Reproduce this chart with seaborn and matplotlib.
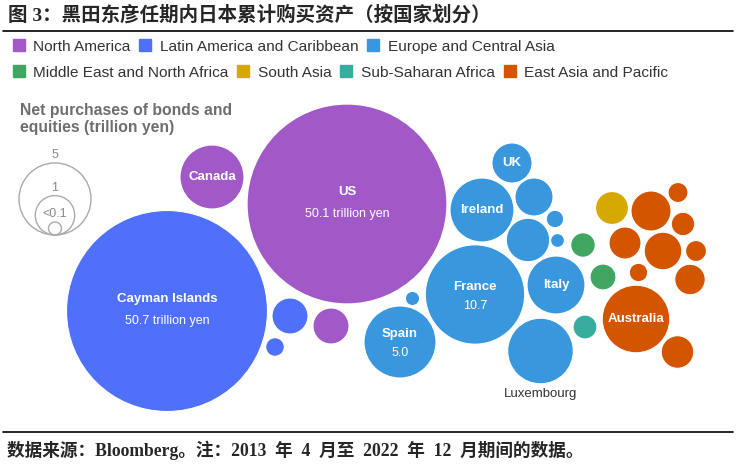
import numpy as np
import pandas as pd
import matplotlib
matplotlib.use("Agg")
import matplotlib.pyplot as plt
from matplotlib.colors import FuncNorm
from matplotlib.lines import Line2D
import seaborn as sns

# 地区与配色
regions = ["North America", "Latin America and Caribbean", "Europe and Central Asia",
           "Middle East and North Africa", "South Asia", "Sub-Saharan Africa",
           "East Asia and Pacific"]
region_colors = ["#a259c8", "#4f70fa", "#3897dd", "#40a661", "#d6a900", "#37ad9f", "#d45500"]

# 气泡数据：名称、地区、净购买额（万亿日元）
names = ["US", "Canada", "",
         "Cayman Islands", "", "",
         "France", "Spain", "Ireland", "Luxembourg", "Italy", "", "UK", "", "", "", "",
         "", "",
         "",
         "",
         "Australia", "", "", "", "", "", "", "", "", ""]
region_of = (["North America"] * 3 + ["Latin America and Caribbean"] * 3
             + ["Europe and Central Asia"] * 11 + ["Middle East and North Africa"] * 2
             + ["South Asia"] + ["Sub-Saharan Africa"] + ["East Asia and Pacific"] * 10)
values = [50.1, 3.73, 0.76,
          50.7, 0.76, 0.045,
          10.7, 5.0, 3.73, 3.97, 2.9, 1.33, 1.05, 0.9, 0.028, 0.002, 0.001,
          0.24, 0.19,
          0.57,
          0.17,
          4.28, 1.05, 0.87, 0.55, 0.52, 0.44, 0.155, 0.09, 0.07, 0.042]

# 气泡布局位置（画布坐标，原点在左上）
layout_x = [347, 212, 331,
            167, 290, 275,
            475, 400, 482, 540.5, 556, 528, 512, 534, 555, 412.5, 557.5,
            603, 583,
            612,
            585,
            636, 651, 663, 677.5, 625, 690, 683, 696, 678, 638.5]
layout_y = [204, 177, 326,
            311, 316, 347,
            294.5, 342, 210, 351, 285, 240, 163, 197, 219, 298.5, 240.5,
            277, 245,
            208,
            327,
            319, 211, 251, 352, 243, 279.5, 224, 251, 192.5, 272.5]

show_value = ["US", "Cayman Islands", "France", "Spain"]
outside_label = ["Luxembourg"]

# 尺寸图例
legend_values = [5, 1, 0]
legend_texts = ["5", "1", "<0.1"]

W, H, DPI = 738, 473, 100
R0, C = 6.5, 13.2      # 半径 = R0 + C * sqrt(数值)（像素）
V_MAX = 60.0
PT2 = (2 * 72 / DPI) ** 2


def radius(v):
    return R0 + C * np.sqrt(v)


def area_px(v):
    return (R0 + C * np.sqrt(v)) ** 2


def area_inv(a):
    return ((np.sqrt(a) - R0) / C) ** 2


size_norm = FuncNorm((area_px, area_inv), vmin=0, vmax=V_MAX)
size_range = (PT2 * area_px(0), PT2 * area_px(V_MAX))

df = pd.DataFrame({"name": names, "region": region_of, "value": values,
                   "x": layout_x, "y": layout_y})

sns.set_theme(style="white")
plt.rcParams["font.family"] = ["Liberation Sans", "Noto Sans CJK SC"]

fig = plt.figure(figsize=(W / DPI, H / DPI), dpi=DPI)
ax = fig.add_axes([0, 0, 1, 1])
ax.set_xlim(0, W)
ax.set_ylim(H, 0)
ax.axis("off")

palette = dict(zip(regions, region_colors))
sns.scatterplot(data=df, x="x", y="y", hue="region", hue_order=regions,
                palette=palette, size="value", sizes=size_range,
                size_norm=size_norm, edgecolor="white", linewidth=0.8,
                alpha=1, legend=False, ax=ax, zorder=3)

# 气泡标签
for _, row in df.iterrows():
    if not row["name"]:
        continue
    if row["name"] in outside_label:
        ax.text(row["x"], row["y"] + radius(row["value"]) + 10, row["name"],
                ha="center", va="center", fontsize=9.5, color="#333333", zorder=4)
    elif row["name"] in show_value:
        big = row["value"] > 20
        vtxt = f"{row['value']:.1f} trillion yen" if big else f"{row['value']:.1f}"
        up, down = (12, 10) if big else (8, 11)
        ax.text(row["x"], row["y"] - up, row["name"], ha="center", va="center",
                fontsize=9.5, fontweight="bold", color="white", zorder=4)
        ax.text(row["x"], row["y"] + down, vtxt, ha="center", va="center",
                fontsize=9, color="white", zorder=4)
    else:
        ax.text(row["x"], row["y"], row["name"], ha="center", va="center",
                fontsize=9.5, fontweight="bold", color="white", zorder=4)

# 尺寸图例
leg_x, leg_bottom = 55, 235
leg_df = pd.DataFrame({"value": legend_values,
                       "x": [leg_x] * 3,
                       "y": [leg_bottom - radius(v) for v in legend_values]})
sns.scatterplot(data=leg_df, x="x", y="y", size="value", sizes=size_range,
                size_norm=size_norm, color="#aaaaaa", facecolor="none",
                edgecolor="#aaaaaa", linewidth=1, legend=False, ax=ax, zorder=2)
for v, t in zip(legend_values, legend_texts):
    top = leg_bottom - 2 * radius(v)
    ax.text(leg_x, top - 8, t, ha="center", va="center", fontsize=9, color="#8a8a8a")
ax.text(20, 103, "Net purchases of bonds and\nequities (trillion yen)", ha="left", va="top",
        fontsize=11.3, color="#6e6e6e", fontweight="bold", linespacing=1.2)

# 颜色图例（两行）
handles = [Line2D([], [], marker="s", ls="", ms=8.5, color=c) for c in region_colors]
rows = [(0, 3, 47), (3, 7, 73)]
for a, b, yp in rows:
    fig.legend(handles[a:b], regions[a:b], loc="center left",
               bbox_to_anchor=(13 / W, 1 - yp / H), ncol=b - a, frameon=False,
               fontsize=11.1, handlelength=0.75, handleheight=0.75, handletextpad=0.55,
               columnspacing=0.6, borderpad=0, borderaxespad=0,
               labelcolor="#333333")

# 标题、分隔线与资料来源
serif_cjk = ["Liberation Serif", "Noto Sans CJK SC"]
fig.text(8 / W, 1 - 15 / H, "图 3：黑田东彦任期内日本累计购买资产（按国家划分）",
         ha="left", va="center", fontsize=14, fontweight="bold", family=serif_cjk)
ax.axhline(31, xmin=3 / W, xmax=733 / W, color="black", lw=1.2)
ax.axhline(432, xmin=3 / W, xmax=733 / W, color="black", lw=1.2)
fig.text(7 / W, 1 - 450 / H,
         "数据来源：Bloomberg。注：2013  年  4  月至  2022  年  12  月期间的数据。",
         ha="left", va="center", fontsize=12.7, fontweight="bold", family=serif_cjk)

fig.savefig("out.png", dpi=DPI)
